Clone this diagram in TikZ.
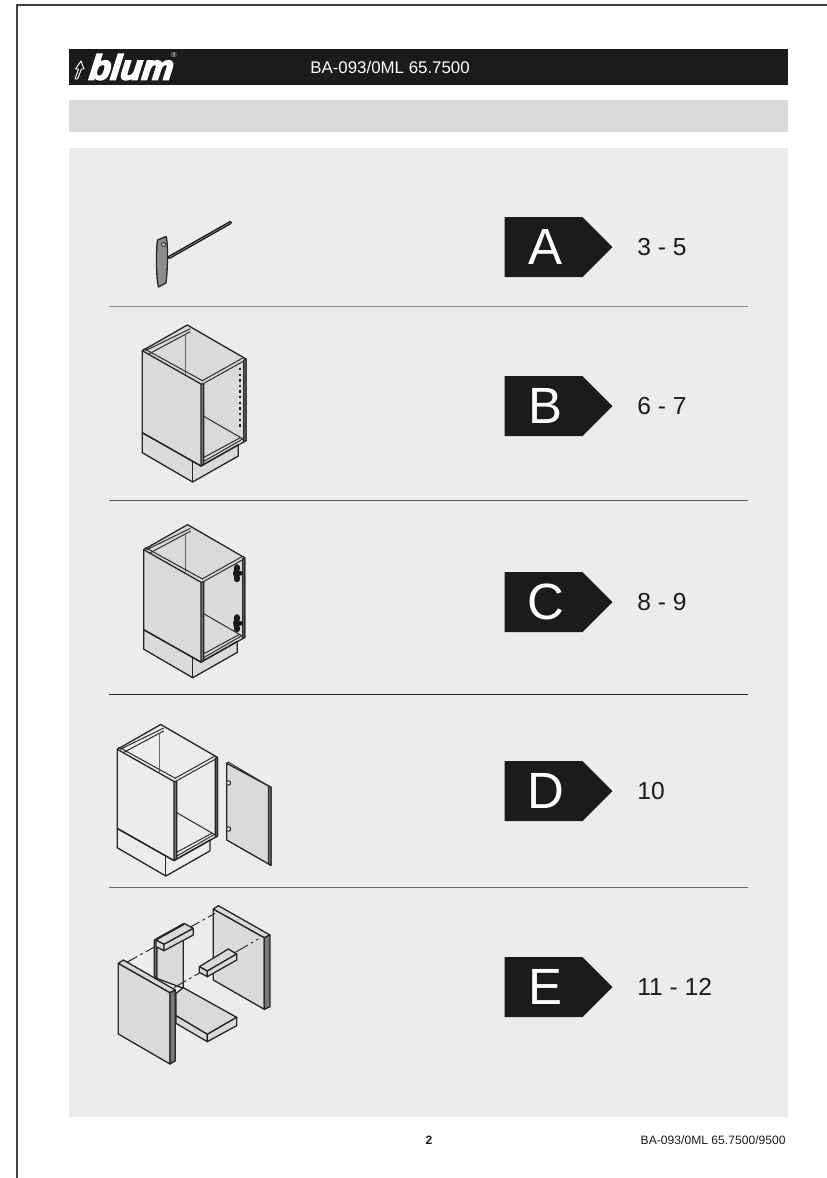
\documentclass[tikz,border=0pt]{standalone}
\usepackage{fontspec}
\usepackage{xcolor}
\usepackage{tikz}
\usetikzlibrary{shapes.symbols}
\setmainfont{Liberation Sans}
\newfontfamily\logofont[FakeBold=4.5,FakeSlant=0.12]{Liberation Sans Bold Italic}
\definecolor{inkblack}{HTML}{1C1B1C}
\definecolor{barGray}{HTML}{D9DBDA}
\definecolor{panelGray}{HTML}{ECECEC}
\definecolor{stripGray}{HTML}{77797A}
\definecolor{handleGray}{HTML}{8C8E8E}
\begin{document}
\begin{tikzpicture}[
    x=0.02cm, y=-0.02cm,
    badge/.style={signal, signal to=east, signal pointer angle=90, fill=inkblack, text=white, inner sep=0pt,
        minimum width=108*0.02cm, minimum height=60*0.02cm, font=\fontsize{29}{29}\selectfont,
        execute at begin node=\hspace{2.8pt}},
    pages/.style={anchor=west, inner sep=0pt, text=inkblack, font=\fontsize{14}{14}\selectfont},
    sepline/.style={draw=#1, line width=0.5pt},
    part/.style={draw=black!85, line width=0.75pt, line join=round},
    thin part/.style={draw=black!80, line width=0.6pt, line join=round},
    strip/.style={part, fill=stripGray},
    cabinet/.pic={
        % Corps et socle
        \fill[#1] (0,0) -- (45,-25.7) -- (103.7,8.3) -- (103.7,90) -- (58.7,115.3) -- (0,82) -- cycle;
        \filldraw[part, fill=#1] (0,82) -- (0,102) -- (50.3,131.3) -- (96,105.3) -- (96,94) -- (58.7,115.3) -- cycle;
        \draw[part] (50.3,131.3) -- (50.3,111);
        % Contour et rails
        \draw[part] (0,82) -- (0,0) -- (45,-25.7) -- (103.7,8.3) -- (103.7,90) -- (58.7,115.3) -- cycle;
        \draw[thin part] (3,0) -- (48,-22) (7,3) -- (48,-19);
        \draw[thin part, black!60] (43.3,-17) -- (43.3,23);
        \draw[thin part] (0,0) -- (2,-2) -- (60.7,30.3);
        \draw[part] (0,0) -- (58.7,33.3);
        \draw[thin part] (60,30) -- (101,7) (60,33.5) -- (102,10);
        \draw[thin part] (61,65.3) -- (102,89);
        \draw[thin part] (61,111) -- (101,88) (61,107) -- (98,87);
        % Chants
        \filldraw[strip] (58.7,33.3) -- (61.5,33.3) -- (61.5,113.5) -- (58.7,115.3) -- cycle;
        \filldraw[strip] (101.5,9.5) -- (103.7,8.3) -- (103.7,90) -- (101.5,91) -- cycle;
    }
]
    \useasboundingbox (0,0) rectangle (827,1178);

    % Cadre de page
    \draw[draw=black!75, line width=0.7pt] (17,1178) -- (17,5) -- (827,5);

    % Bandeaux
    \fill[inkblack] (69,49) rectangle (788,85);
    \fill[barGray] (69,100) rectangle (788,132);
    \fill[panelGray] (69,148) rectangle (788,1117);

    % Logo et reference
    \node[anchor=west, inner sep=0pt, text=white, font=\logofont\fontsize{20}{20}\selectfont] (logo) at (88,67) {blum};
    \node[anchor=center, inner sep=0pt, text=white, font=\fontsize{4}{4}\selectfont] (regmark) at (174,55) {®};
    \draw[white, line width=0.55pt, line join=round] (75,79) -- (78.5,69) -- (75.5,69) -- (81,61) -- (84,69) -- (81.5,69) -- (77.5,79) -- cycle;
    \node[anchor=west, inner sep=0pt, text=white, font=\fontsize{9.6}{10}\selectfont] (refhead) at (310,67) {BA-093/0ML 65.7500};

    % Separations
    \draw[sepline=black!45] (109,306) -- (748,306);
    \draw[sepline=black!65] (109,500) -- (748,500);
    \draw[sepline=black!85] (109,694) -- (748,694);
    \draw[sepline=black!60] (109,887) -- (748,887);

    % Etiquettes et pages
    \node[badge] (badgeA) at (543.5,247) {A};
    \node[badge] (badgeB) at (543.5,406) {B};
    \node[badge] (badgeC) at (543.5,602) {C};
    \node[badge] (badgeD) at (543.5,791) {D};
    \node[badge] (badgeE) at (543.5,987) {E};
    \node[pages] (pagesA) at (637,247) {3 - 5};
    \node[pages] (pagesB) at (637,406) {6 - 7};
    \node[pages] (pagesC) at (637,602) {8 - 9};
    \node[pages] (pagesD) at (637,791) {10};
    \node[pages] (pagesE) at (637,987) {11 - 12};

    % Cle
    \draw[line width=1.9pt, black!90, line cap=round] (169,257.5) -- (230.5,222.5);
    \draw[line width=0.35pt, black!45] (169,257.5) -- (230.5,222.5);
    \filldraw[part, fill=handleGray] (157.5,240) -- (166,236.5) .. controls (167.5,238) and (168.5,262) .. (166,283) -- (158.5,287) .. controls (156.5,280) and (155.5,255) .. (157.5,240) -- cycle;
    \filldraw[thin part, fill=barGray] (163.5,244.5) circle (2);

    % Caisson B
    \pic at (142.3,350.7) {cabinet=barGray};
    \draw[line width=1.3pt, black!85, dash pattern=on 1.3pt off 1.9pt] (239.7,368) -- (239.7,428);

    % Caisson C
    \pic[scale=.975] at (143.7,549.7) {cabinet=barGray};
    \fill[black!90] (237,568) ellipse (3.2 and 3.8) (237,578.5) ellipse (3.2 and 3.8) (240,573.3) ellipse (2.8 and 2.4) (236,573.3) ellipse (3 and 4.5);
    \fill[black!90] (237,618) ellipse (3.2 and 3.8) (237,628.5) ellipse (3.2 and 3.8) (240,623.3) ellipse (2.8 and 2.4) (236,623.3) ellipse (3 and 4.5);

    % Caisson D et porte
    \pic[scale=.965] at (117.3,749.3) {cabinet=panelGray};
    \filldraw[part, fill=barGray] (226.7,763.3) -- (271,787.3) -- (271,865.3) -- (226.7,840) -- cycle;
    \filldraw[strip] (268.5,786) -- (271,787.3) -- (271,865.3) -- (268.5,864) -- cycle;
    \draw[thin part] (226.7,763.3) -- (228,762) -- (271,787.3);
    \filldraw[thin part, fill=barGray] (228.5,783) circle (2.2) (228.5,829) circle (2.2);

    % Panneaux E
    \begin{scope}[shift={(100,895)}, scale=1/3]
        \filldraw[part, fill=barGray] (340,42) -- (493,128) -- (493,343) -- (340,255) -- cycle;
        \filldraw[part, fill=barGray] (340,42) -- (355,32) -- (510,120) -- (493,128) -- cycle;
        \filldraw[strip] (493,128) -- (510,120) -- (510,335) -- (493,343) -- cycle;
        \draw[thin part, dash pattern=on 8pt off 2pt on 1.5pt off 2pt] (75,205) -- (345,55);
        \filldraw[part, fill=barGray] (170,135) -- (250,92) -- (250,280) -- (170,250) -- cycle;
        \filldraw[strip] (163,135) -- (170,131) -- (170,248) -- (163,243) -- cycle;
        \draw[thin part, dash pattern=on 8pt off 2pt on 1.5pt off 2pt] (222,278) -- (475,132);
        % rail haut
        \filldraw[part, fill=barGray] (168,135) -- (252,85) -- (280,100) -- (192,148) -- cycle;
        \filldraw[part, fill=barGray] (168,135) -- (192,148) -- (192,167) -- (168,155) -- cycle;
        \filldraw[part, fill=barGray] (192,148) -- (280,100) -- (280,120) -- (192,167) -- cycle;
        \draw[line width=1.2pt, black!85] (170,132) -- (252,87);
        % rail milieu
        \filldraw[part, fill=barGray] (298,215) -- (385,162) -- (410,177) -- (322,228) -- cycle;
        \filldraw[part, fill=barGray] (298,215) -- (322,228) -- (322,245) -- (298,232) -- cycle;
        \filldraw[part, fill=barGray] (322,228) -- (410,177) -- (410,195) -- (322,245) -- cycle;
        % tablette
        \filldraw[part, fill=barGray] (228,295) -- (250,278) -- (410,367) -- (322,418) -- (228,362) -- cycle;
        \filldraw[part, fill=barGray] (228,362) -- (322,418) -- (322,440) -- (228,385) -- cycle;
        \filldraw[part, fill=barGray] (322,418) -- (410,367) -- (410,392) -- (322,440) -- cycle;
        % panneau gauche
        \filldraw[part, fill=barGray] (55,205) -- (210,293) -- (210,507) -- (55,417) -- cycle;
        \filldraw[part, fill=barGray] (55,205) -- (70,195) -- (226,285) -- (210,293) -- cycle;
        \filldraw[strip] (210,293) -- (226,285) -- (226,497) -- (210,507) -- cycle;
    \end{scope}

    % Pied de page
    \node[inner sep=0pt, text=inkblack, font=\bfseries\fontsize{6.9}{7}\selectfont] (pagenum) at (429,1140) {2};
    \node[anchor=east, inner sep=0pt, text=inkblack, font=\fontsize{6.9}{7}\selectfont] (reffoot) at (786,1140) {BA-093/0ML 65.7500/9500};
\end{tikzpicture}
\end{document}
